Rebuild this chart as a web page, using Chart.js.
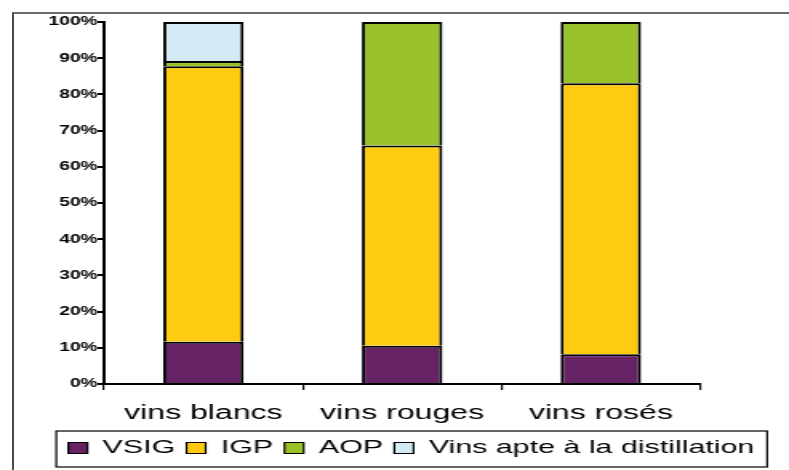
<!DOCTYPE html>
<html>
<head>
<meta charset="utf-8">
<script src="https://cdn.jsdelivr.net/npm/chart.js@4.4.1/dist/chart.umd.min.js"></script>
<style>
  html, body { margin: 0; padding: 0; background: #fff; }
  #wrap { position: relative; width: 789px; height: 470px; overflow: hidden; }
  #frame { position: absolute; left: 12px; top: 12px; right: -4px; bottom: -4px;
           border-top: 2px solid #6b6b6b; border-left: 2px solid #4a4a4a; pointer-events: none; }
</style>
</head>
<body>
<div id="wrap">
  <!-- drawn narrow then stretched, like the original picture -->
  <canvas id="myChart" width="493" height="470" style="width:789px;height:470px;"></canvas>
  <div id="frame"></div>
</div>
<script>
const categories = ["vins blancs", "vins rouges", "vins rosés"];
const seriesNames = ["VSIG", "IGP", "AOP", "Vins apte à la distillation"];
const vsig = [11.7, 10.6, 8.2];
const igp = [76.1, 55.3, 74.9];
const aop = [1.4, 34.1, 16.9];
const distillation = [10.8, 0, 0];
const yTicks = [0, 10, 20, 30, 40, 50, 60, 70, 80, 90, 100];
const colors = ["#652365", "#FECB10", "#99C12A", "#D3E9F3"];

const font = "'Liberation Sans', Arial, sans-serif";

// box around the legend, taken from the legend hit boxes
const legendFrame = {
  id: "legendFrame",
  afterDraw(chart) {
    const boxes = chart.legend.legendHitBoxes;
    if (!boxes || !boxes.length) return;
    let l = Infinity, r = -Infinity, c = 0;
    boxes.forEach((b) => {
      l = Math.min(l, b.left);
      r = Math.max(r, b.left + b.width);
      c = b.top + b.height / 2;
    });
    const ctx = chart.ctx;
    ctx.save();
    ctx.strokeStyle = "#000";
    ctx.lineWidth = 1.2;
    ctx.strokeRect(l - 7.5, c - 17, r - l + 15.5, 36);
    ctx.restore();
  },
};

const series = [vsig, igp, aop, distillation];

new Chart(document.getElementById("myChart"), {
  type: "bar",
  data: {
    labels: categories,
    datasets: series.map((d, i) => ({
      label: seriesNames[i],
      data: d,
      backgroundColor: colors[i],
      borderColor: "#000",
      borderWidth: 2,
      borderSkipped: "start",
      barPercentage: 0.405,
      categoryPercentage: 1,
    })),
  },
  options: {
    responsive: false,
    animation: false,
    devicePixelRatio: 1,
    layout: { padding: { left: 21, right: 0, top: 22, bottom: 2.5 } },
    scales: {
      x: {
        stacked: true,
        grid: { offset: true, drawOnChartArea: false, drawTicks: true, tickLength: 6, color: "#000", lineWidth: 1.2 },
        border: { color: "#000", width: 2 },
        ticks: { color: "#000", padding: 11, font: { family: font, size: 20 } },
        afterFit: (s) => { s.height = 47.5; },
      },
      y: {
        stacked: true,
        min: 0,
        max: 100,
        afterBuildTicks: (s) => { s.ticks = yTicks.map((v) => ({ value: v })); },
        grid: { drawOnChartArea: false, drawTicks: true, tickLength: 4, color: "#000", lineWidth: 2 },
        border: { color: "#000", width: 2 },
        ticks: {
          color: "#000",
          padding: 0,
          font: { family: font, size: 12, weight: "bold" },
          callback: (v) => v + "%",
        },
        afterFit: (s) => { s.width = 44; },
      },
      y2: {
        position: "right",
        display: true,
        grid: { display: false },
        border: { display: false },
        ticks: { display: false },
        afterFit: (s) => { s.width = 55.5; },
      },
    },
    plugins: {
      legend: {
        position: "bottom",
        labels: {
          color: "#000",
          boxWidth: 12,
          boxHeight: 11,
          padding: 7,
          font: { family: font, size: 19 },
          generateLabels: (chart) =>
            Chart.defaults.plugins.legend.labels.generateLabels(chart).map((it) => ({ ...it, lineWidth: 1.2 })),
        },
      },
      tooltip: { enabled: false },
    },
  },
  plugins: [legendFrame],
});
</script>
</body>
</html>
